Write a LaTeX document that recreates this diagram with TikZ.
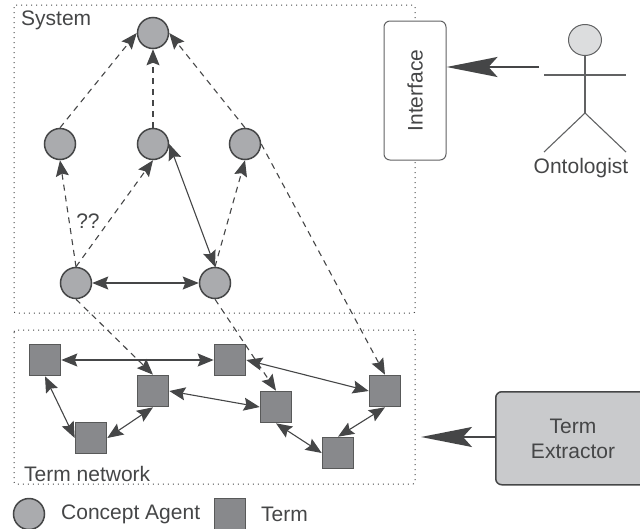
\documentclass[tikz,border=0pt]{standalone}
\usepackage{fontspec}
\setmainfont{Liberation Sans}
\usetikzlibrary{arrows.meta,shapes.geometric}
\definecolor{inkgray}{HTML}{454647}
\definecolor{agentgray}{HTML}{AAABAE}
\definecolor{termgray}{HTML}{88898C}
\definecolor{extractgray}{HTML}{C9CACC}
\definecolor{headgray}{HTML}{DCDDDE}
\begin{document}
\begin{tikzpicture}[x=1pt,y=-1pt,>={Stealth[length=16pt,width=13pt,inset=2.5pt]},every node/.style={font=\fontsize{21}{25}\selectfont,text=inkgray,inner sep=0pt}]
        \tikzset{agent/.style={circle,draw=inkgray,line width=1.5pt,fill=agentgray,minimum size=31pt}}
        \tikzset{term/.style={rectangle,draw=inkgray!90,line width=1.6pt,fill=termgray,minimum size=31pt}}
        \tikzset{region/.style={draw=inkgray,line width=1pt,dash pattern=on 1pt off 4pt,rounded corners=2pt}}
        \tikzset{link/.style={draw=inkgray,line width=1.1pt,<->}}
        \tikzset{maps/.style={draw=inkgray,line width=1.1pt,dash pattern=on 6pt off 5pt,->}}
        \tikzset{feed/.style={draw=inkgray,line width=2pt,-{Stealth[length=51pt,width=20pt,inset=9pt]}}}
        \tikzset{limb/.style={draw=inkgray!85,line width=1.1pt}}
        \useasboundingbox (0,0) rectangle (640,528);
        \clip (0,0) rectangle (640,528);
        \draw[region] (14,5) rectangle (415,313);
        \draw[region] (14,330) rectangle (415,484);
        \node[anchor=west] (systemlabel) at (21,20) {System};
        \node[anchor=west] (networklabel) at (24,474) {Term network};
        \node[agent] (top) at (153,33) {};
        \node[agent] (midA) at (60,144) {};
        \node[agent] (midB) at (153,144) {};
        \node[agent] (midC) at (245,144) {};
        \node[agent] (lowA) at (76,283) {};
        \node[agent] (lowB) at (215,283) {};
        \node[term] (termA) at (45,360) {};
        \node[term] (termB) at (230,360) {};
        \node[term] (termC) at (153,391) {};
        \node[term] (termD) at (276,407) {};
        \node[term] (termE) at (91,438) {};
        \node[term] (termF) at (385,391) {};
        \node[term] (termG) at (338,453) {};
        \node (unsure) at (88,221) {??};
        \draw[maps] (midA.north) -- (top.west);
        \draw[maps] (midB.north) -- (top.south);
        \draw[maps] (midC.north) -- (top.east);
        \draw[maps] (lowA.north) -- (midA.south);
        \draw[maps] (lowA.north) -- (midB.south);
        \draw[maps] (lowB.north) -- (midC.south);
        \draw[maps] (midC.east) -- (termF.north);
        \draw[maps] (lowA.south) -- (termC.north);
        \draw[maps] (lowB.south) -- (termD.north);
        \draw[link] (midB.east) -- (lowB.north);
        \draw[link] (lowA.east) -- (lowB.west);
        \draw[link] (termA.east) -- (termB.west);
        \draw[link] (termA.south) -- (termE.west);
        \draw[link] (termE.east) -- (termC.south);
        \draw[link] (termC.east) -- (termD.west);
        \draw[link] (termB.east) -- (termF.west);
        \draw[link] (termD.south) -- (termG.west);
        \draw[link] (termG.north) -- (termF.south);
        \node[draw=inkgray!85,line width=1pt,rounded corners=6pt,minimum width=62pt,minimum height=139pt,fill=white] (interface) at (415,90.5) {};
        \node[rotate=90] (interfacelabel) at (interface.center) {Interface};
        \node[ellipse,draw=inkgray!85,line width=1pt,fill=headgray,minimum width=33pt,minimum height=31pt] (head) at (585,40) {};
        \coordinate (hip) at (585,113);
        \coordinate (armL) at (544,75);
        \coordinate (armR) at (626,75);
        \coordinate (legL) at (544,152);
        \coordinate (legR) at (626,152);
        \draw[limb] (head.south) -- (hip);
        \draw[limb] (armL) -- (armR);
        \draw[limb] (legL) -- (hip) -- (legR);
        \node (ontologist) at (581,168) {Ontologist};
        \coordinate (actorhand) at (539,67);
        \draw[feed] (actorhand) -- (interface.east |- actorhand);
        \node[draw=inkgray,line width=1.5pt,fill=extractgray,rounded corners=6pt,minimum width=170pt,minimum height=93pt,anchor=north west] (extractor) at (495,391) {};
        \node[align=center] (extractorlabel) at (573,438.5) {Term\\Extractor};
        \coordinate (networkedge) at (421,437);
        \draw[feed] (extractor.west |- networkedge) -- (networkedge);
        \node[agent] (keyagent) at (29,514) {};
        \node[anchor=west] (keyagentlabel) at (61,514) {Concept Agent};
        \node[term] (keyterm) at (230,514) {};
        \node[anchor=west] (keytermlabel) at (261,514) {Term};
      \end{tikzpicture}
\end{document}
